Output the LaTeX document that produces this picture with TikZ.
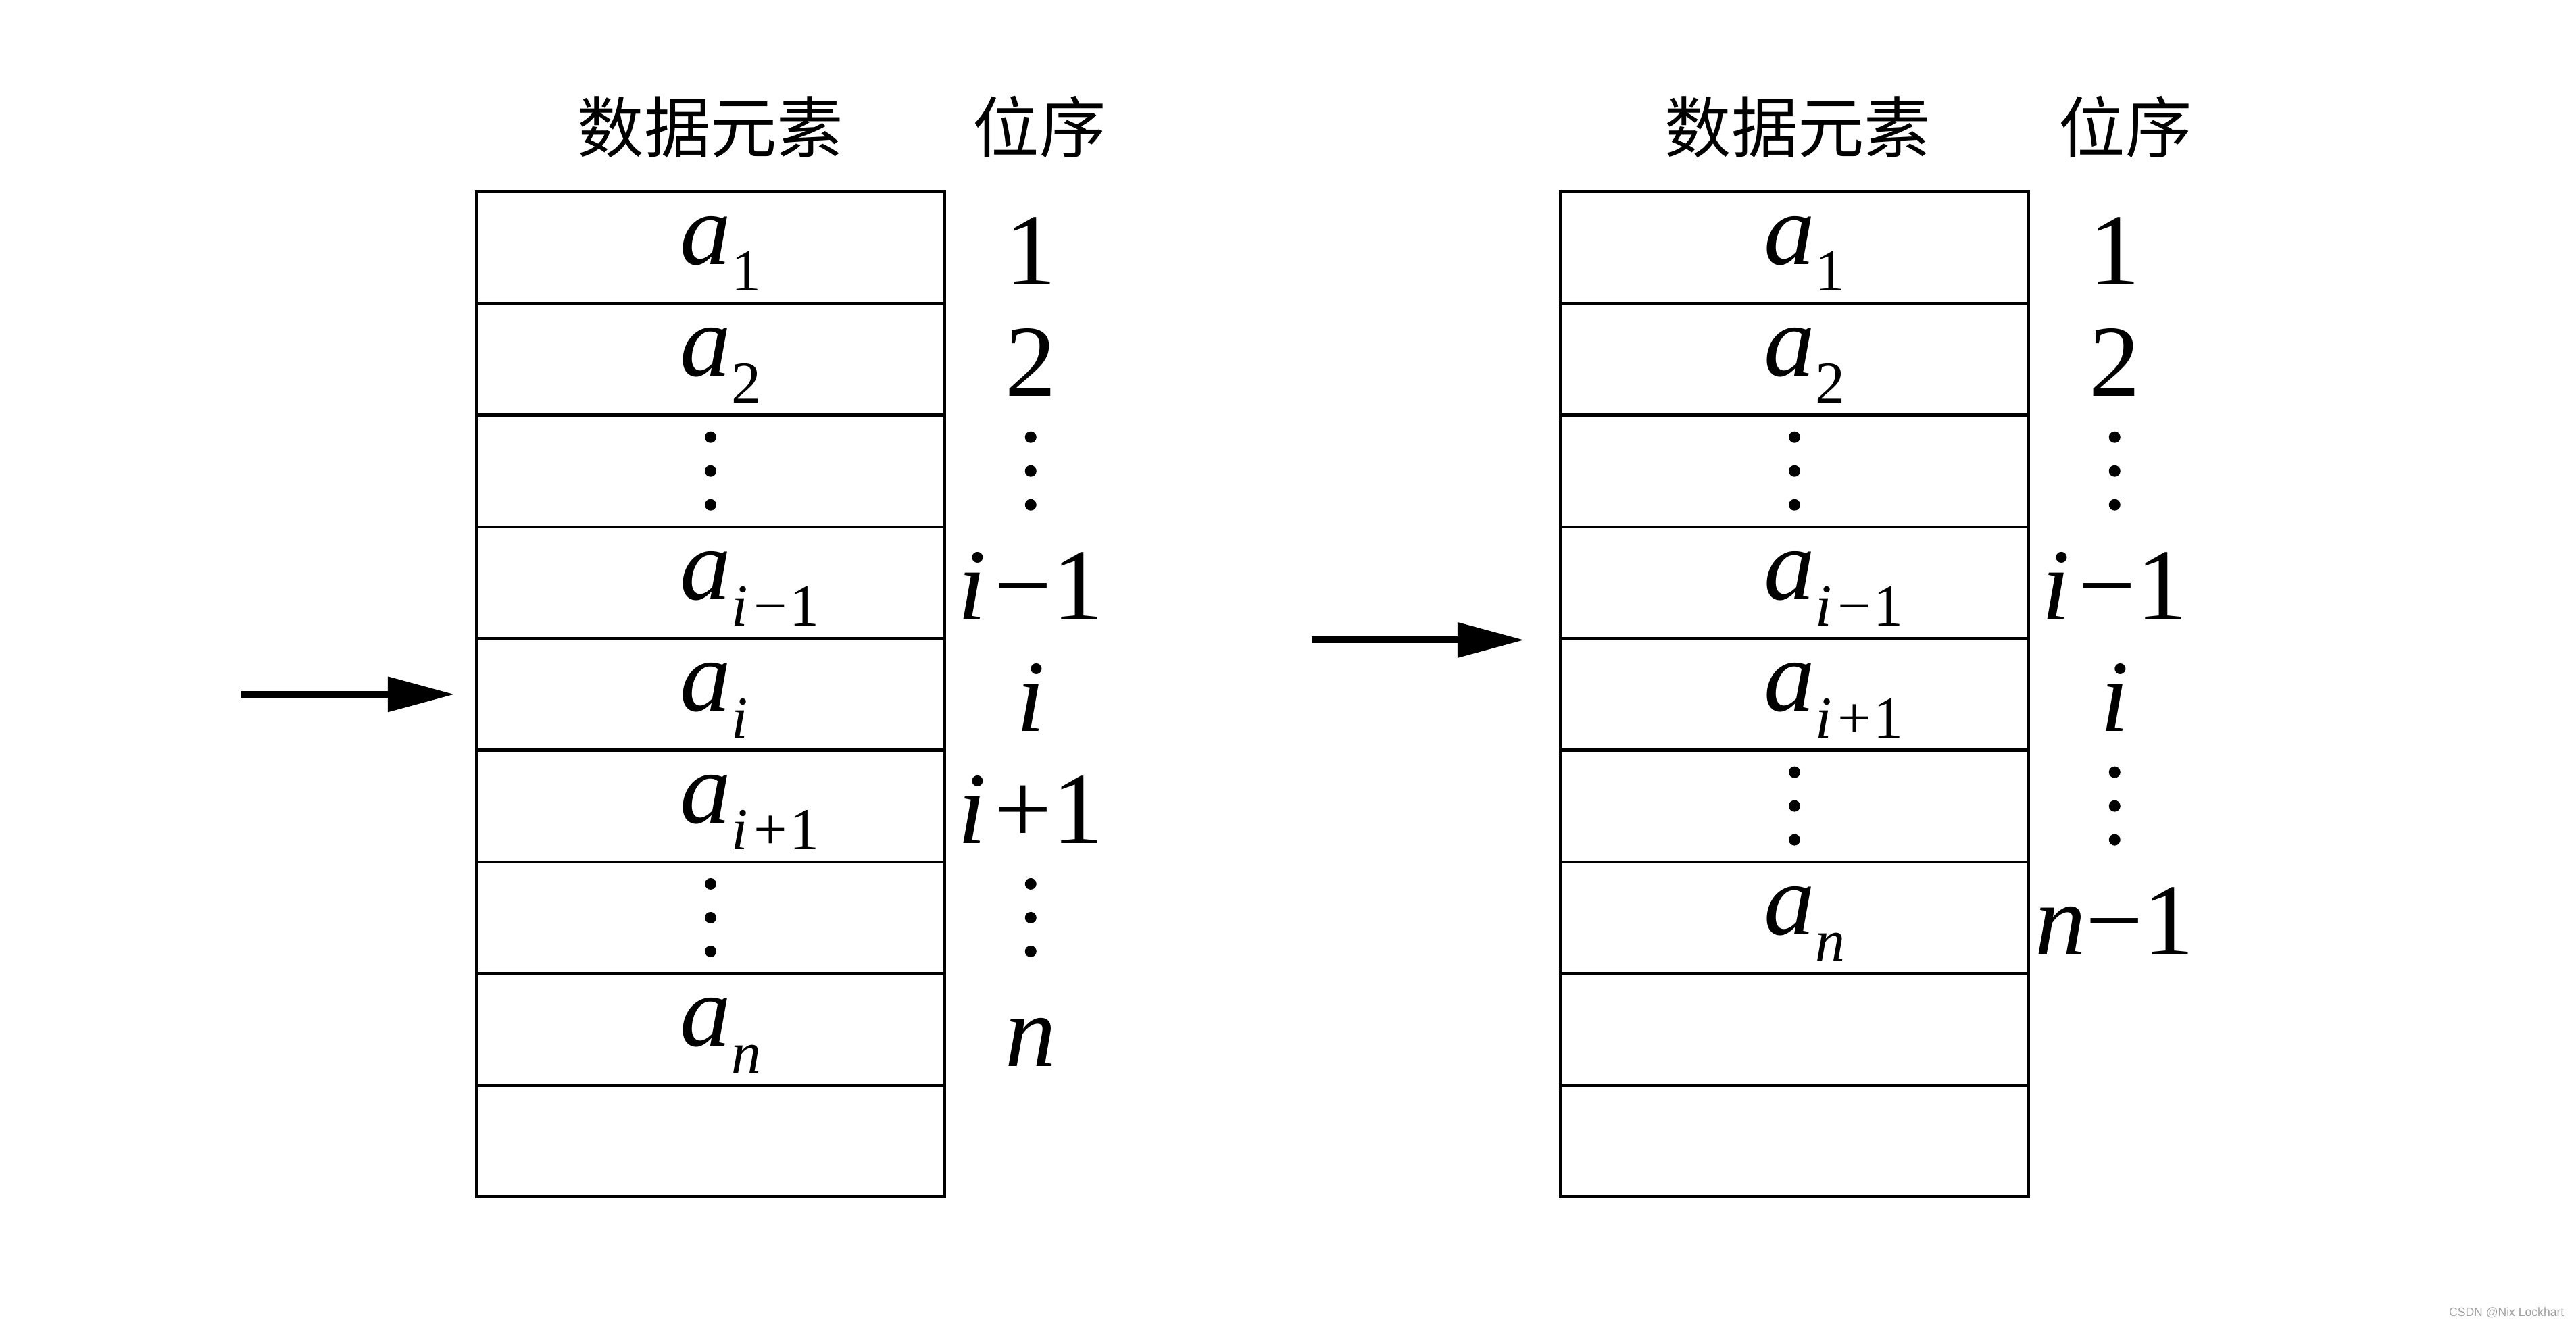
\documentclass[tikz,border=0pt]{standalone}
\usepackage{fontspec}
\setmainfont{Liberation Serif}
\newfontfamily\cjk{Noto Sans CJK SC}
\newfontfamily\wmfont{Liberation Sans}
\usetikzlibrary{arrows.meta, positioning, calc}

% element a with a subscript
\newcommand{\elem}[1]{\textit{a}\raisebox{-0.26em}{\fontsize{25}{25}\selectfont #1}}

\begin{document}
\begin{tikzpicture}[
        cell/.style={draw, line width=0.045cm, minimum width=6.93cm, minimum height=1.653cm, inner sep=0pt},
        elt/.style={anchor=base west, inner sep=0pt, font=\fontsize{43}{43}\selectfont},
        num/.style={anchor=base, inner sep=0pt, font=\fontsize{43}{43}\selectfont},
        dotn/.style={circle, fill, minimum size=0.17cm, inner sep=0pt},
        head/.style={inner sep=0pt, font=\cjk\fontsize{28}{28}\selectfont},
        ptr/.style={-{Triangle[length=0.99cm, width=0.5cm]}, line width=0.1cm},
        wm/.style={anchor=east, inner sep=0pt, text=gray!75, font=\wmfont\fontsize{5}{6}\selectfont}
      ]
        \useasboundingbox (0,0) rectangle (38.12,19.59);

        % left table: before deleting
        \foreach \k in {1,...,9} { \node[cell] (L\k) at (10.515, 16.75-\k*1.653+0.8265) {}; }
        \node[head] (hdL) at ($(L1.north)+(0,0.94)$) {数据元素};
        \node[head] (poL) at ($(L1.north east)+(1.38,0.94)$) {位序};
        \foreach \k/\s/\n in {1/1/1, 2/2/2, 4/{\textit{i}\hspace{0.1em}−\hspace{0.04em}1}/{\textit{i}\hspace{0.08em}−1},
            5/{\textit{i}}/{\textit{i}}, 6/{\textit{i}\hspace{0.1em}+\hspace{0.04em}1}/{\textit{i}\hspace{0.08em}+1}, 8/{\textit{n}}/{\textit{n}}}
          { \node[elt] (le\k) at ($(L\k.west)+(3.03,-0.25)$) {\elem{\s}};
            \node[num] (ln\k) at ($(L\k.east)+(1.25,-0.55)$) {\n}; }
        \foreach \k in {3,7} \foreach \d/\t in {a/0.5,b/0,c/-0.5}
          { \node[dotn] (le\k\d) at ($(L\k)+(0,\t)$) {};
            \node[dotn] (ln\k\d) at ($(L\k.east)+(1.25,\t)$) {}; }
        \coordinate (srcL) at ($(L5.west)+(-3.46,0)$);
        \draw[ptr, shorten >=0.30cm] (srcL) -- (L5.west);

        % right table: after deleting
        \foreach \k in {1,...,9} { \node[cell] (R\k) at (26.555, 16.75-\k*1.653+0.8265) {}; }
        \node[head] (hdR) at ($(R1.north)+(0.05,0.94)$) {数据元素};
        \node[head] (poR) at ($(R1.north east)+(1.41,0.94)$) {位序};
        \foreach \k/\s/\n in {1/1/1, 2/2/2, 4/{\textit{i}\hspace{0.1em}−\hspace{0.04em}1}/{\textit{i}\hspace{0.08em}−1},
            5/{\textit{i}\hspace{0.1em}+\hspace{0.04em}1}/{\textit{i}}, 7/{\textit{n}}/{\textit{n}−1}}
          { \node[elt] (re\k) at ($(R\k.west)+(3.03,-0.25)$) {\elem{\s}};
            \node[num] (rn\k) at ($(R\k.east)+(1.25,-0.55)$) {\n}; }
        \foreach \k in {3,6} \foreach \d/\t in {a/0.5,b/0,c/-0.5}
          { \node[dotn] (re\k\d) at ($(R\k)+(0,\t)$) {};
            \node[dotn] (rn\k\d) at ($(R\k.east)+(1.25,\t)$) {}; }
        \coordinate (srcR) at ($(R4.south west)+(-3.66,0)$);
        \draw[ptr, shorten >=0.51cm] (srcR) -- (R4.south west);

        \node[wm] (wmk) at (37.95,0.16) {CSDN @Nix Lockhart};
      \end{tikzpicture}
\end{document}
